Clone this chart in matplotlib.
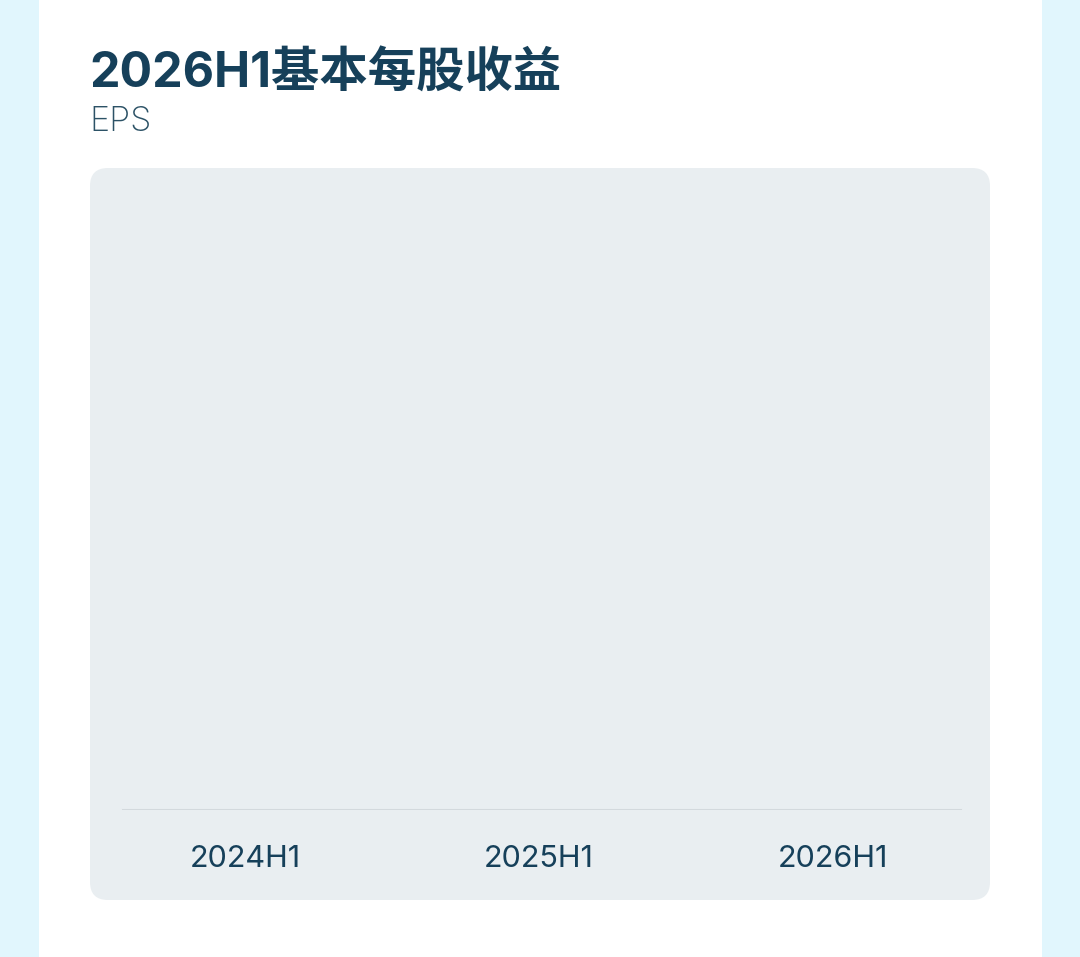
import matplotlib
matplotlib.use("Agg")
import matplotlib.pyplot as plt
from matplotlib.patches import FancyBboxPatch, Rectangle

plt.rcParams['font.family'] = ['Inter', 'Noto Sans CJK SC', 'DejaVu Sans']

# data
periods = ['2024H1', '2025H1', '2026H1']
eps = [0, 0, 0]   # nothing visible in the chart

title = '2026H1基本每股收益'
subtitle = 'EPS'

dark = '#16405A'
W, H = 1080, 957

fig = plt.figure(figsize=(W / 100, H / 100), dpi=100)
fig.patch.set_facecolor('white')

# background layer in pixel coordinates
bg = fig.add_axes([0, 0, 1, 1])
bg.set_xlim(0, W)
bg.set_ylim(H, 0)
bg.axis('off')
bg.add_patch(Rectangle((0, 0), 39, H, color='#E1F6FD', lw=0))
bg.add_patch(Rectangle((1042, 0), 38, H, color='#E1F6FD', lw=0))
bg.add_patch(FancyBboxPatch((108, 186), 864, 696,
                            boxstyle='round,pad=18,rounding_size=18',
                            fc='#E9EEF1', ec='none', mutation_aspect=1))
bg.text(89, 88, title, fontsize=34.8, fontweight='bold', color=dark,
        ha='left', va='baseline')
bg.text(89, 131, subtitle, fontsize=24.5, fontweight='light', color='#2C5266',
        ha='left', va='baseline')

# chart
ax = fig.add_axes([98 / W, (H - 810) / H, 882 / W, 610 / H])
ax.patch.set_alpha(0)
ax.bar(range(len(periods)), eps, width=0.6, color='#2F7F9A')
ax.set_xlim(-0.5, 2.5)
ax.set_ylim(0, 1)
for s in ax.spines.values():
    s.set_visible(False)
ax.axhline(0, xmin=25 / 882, xmax=863 / 882, color='#D3D9DD', lw=1.5)
ax.set_yticks([])
ax.set_xticks(range(len(periods)), periods)
ax.tick_params(axis='x', length=0, pad=25.5, labelsize=22, labelcolor=dark)

fig.savefig('out.png', dpi=100)
